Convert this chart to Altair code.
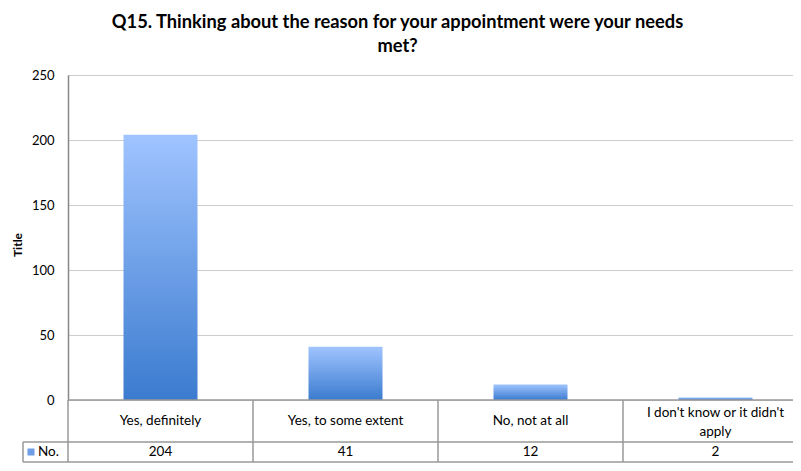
import altair as alt
import pandas as pd

title_lines = ["Q15. Thinking about the reason for your appointment were your needs", "met?"]
categories = ["Yes, definitely", "Yes, to some extent", "No, not at all", "I don't know or it didn't apply"]
category_labels = ["Yes, definitely", "Yes, to some extent", "No, not at all", "I don't know or it didn't\napply"]
values = [204, 41, 12, 2]
series_name = "No."
y_ticks = [0, 50, 100, 150, 200, 250]
y_title = "Title"

df = pd.DataFrame({"category": categories, "label": category_labels, "value": values})
legend_df = pd.DataFrame({"series": [series_name]})

FONT = "Lato"
W = 725
H = 325
LINE = "#999999"
ROW1 = 42
ROW2 = 62

xscale = alt.Scale(domain=categories, range=[0, 740], paddingInner=0, paddingOuter=0)


def xenc(**kw):
    return alt.X("category:N", sort=categories, scale=xscale, axis=None, **kw)


grad = alt.Gradient(
    gradient="linear",
    stops=[alt.GradientStop(color="#A0C4FF", offset=0), alt.GradientStop(color="#3B7BCF", offset=1)],
    x1=0, x2=0, y1=0, y2=1,
)

yenc = alt.Y(
    "value:Q",
    scale=alt.Scale(domain=[0, 250], nice=False),
    axis=alt.Axis(
        values=y_ticks, title=y_title, grid=True, gridColor="#9a9a9a", gridDash=[1, 1],
        ticks=False, labelPadding=14, labelFontSize=13, labelFont=FONT, labelColor="#000000",
        domainColor="#888888", domainWidth=1.5,
        titleFont=FONT, titleFontSize=12, titleFontWeight="bold", titleColor="#000000",
        titleX=-51, titleY=H / 2 + 7, titleAngle=270, titleBaseline="middle", titleAlign="center",
    ),
)

bars = alt.Chart(df).mark_bar(width=alt.RelativeBandSize(0.4), color=grad).encode(x=xenc(), y=yenc)

text_style = dict(font=FONT, fontSize=13.5, color="#000000", baseline="middle")

cat_text1 = alt.Chart(df).transform_filter(
    "indexof(datum.label, '\\n') < 0"
).mark_text(**text_style).encode(x=xenc(), y=alt.value(H + 21), text="label:N")

cat_text2 = alt.Chart(df).transform_filter(
    "indexof(datum.label, '\\n') >= 0"
).mark_text(lineBreak="\n", lineHeight=19, **text_style).encode(
    x=xenc(), y=alt.value(H + 13), text="label:N"
)

val_text = alt.Chart(df).mark_text(**text_style).encode(
    x=xenc(), y=alt.value(H + (ROW1 + ROW2) / 2), text="value:Q"
)

vlines = alt.Chart(df).mark_rule(color=LINE, strokeWidth=1.5).encode(
    x=xenc(bandPosition=0), y=alt.value(H), y2=alt.value(H + ROW2)
)

base1 = alt.Chart(legend_df)
hline0 = base1.mark_rule(color=LINE, strokeWidth=1.5).encode(x=alt.value(0), x2=alt.value(W), y=alt.value(H))
hline1 = base1.mark_rule(color=LINE, strokeWidth=1.5).encode(x=alt.value(-45), x2=alt.value(W), y=alt.value(H + ROW1))
hline2 = base1.mark_rule(color=LINE, strokeWidth=1.5).encode(x=alt.value(-45), x2=alt.value(W), y=alt.value(H + ROW2))
vline_l = base1.mark_rule(color=LINE, strokeWidth=1.5).encode(x=alt.value(-45), y=alt.value(H + ROW1), y2=alt.value(H + ROW2))
leg_sq = base1.mark_square(size=49, color="#6E9DE8", opacity=1).encode(
    x=alt.value(-37), y=alt.value(H + (ROW1 + ROW2) / 2)
)
leg_tx = base1.mark_text(font=FONT, fontSize=13.5, color="#000000", align="left", baseline="middle").encode(
    x=alt.value(-30), y=alt.value(H + (ROW1 + ROW2) / 2), text="series:N"
)

chart = alt.layer(
    bars, vlines, hline0, hline1, hline2, vline_l, cat_text1, cat_text2, val_text, leg_sq, leg_tx
).properties(
    width=W,
    height=H,
    title=alt.TitleParams(
        title_lines, font=FONT, fontSize=18.3, fontWeight="bold", color="#000000",
        anchor="middle", dx=-33, offset=13, lineHeight=24,
    ),
    autosize=alt.AutoSizeParams(type="none"),
    padding={"left": 60, "top": 67, "right": 0, "bottom": 63},
).configure_view(stroke=None)

chart.save("out.html", embed_options={"renderer": "svg", "actions": False})
